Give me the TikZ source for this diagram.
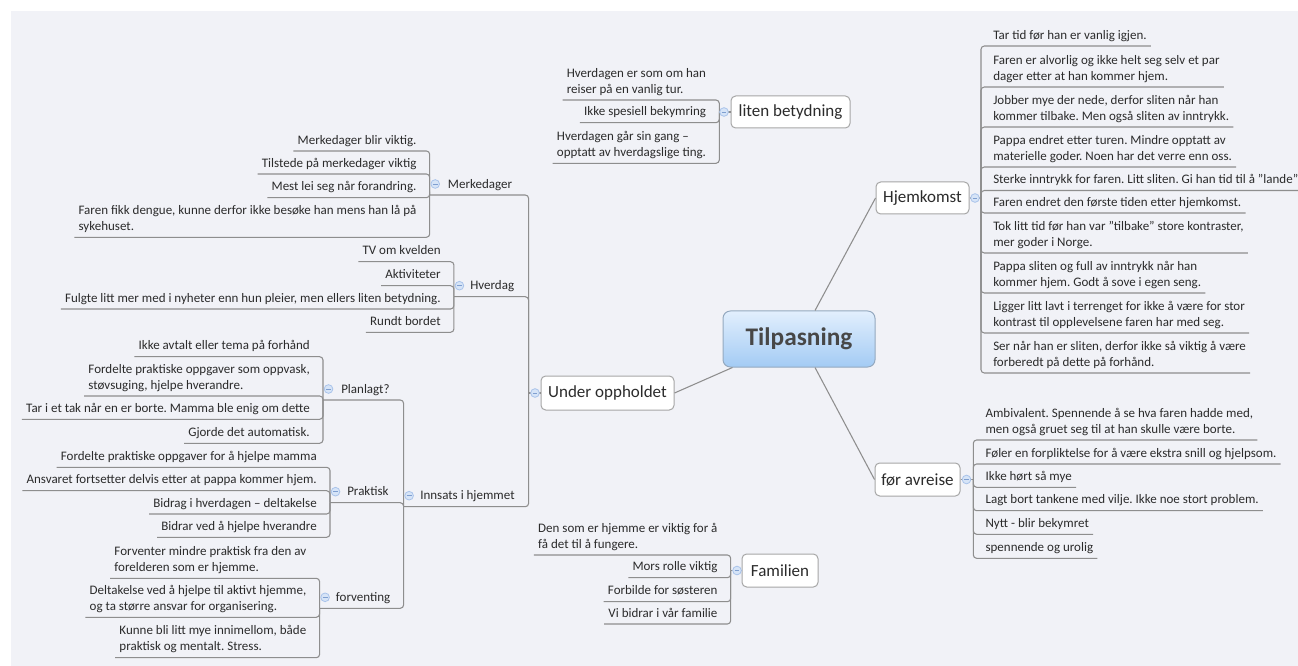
\documentclass[tikz,border=0pt]{standalone}
\usepackage{fontspec}
\setmainfont{Carlito}
\frenchspacing
\usetikzlibrary{calc}
\definecolor{bgc}{HTML}{F1F2F7}
\definecolor{txt}{HTML}{2B2B2B}
\definecolor{ln}{HTML}{8E8E8E}
\definecolor{bx}{HTML}{A6A6A6}
\definecolor{cfill}{HTML}{D6E4F7}
\definecolor{cdraw}{HTML}{A9C3EA}
\definecolor{cmin}{HTML}{7F9FD0}
\definecolor{ctop}{HTML}{E2EFFD}
\definecolor{cbot}{HTML}{A3CBF4}
\definecolor{cbd}{HTML}{94A9BF}
\newcommand\leaffont{\fontsize{9.75}{12}\selectfont}
\newcommand\topfont{\fontsize{12.75}{15}\selectfont}
\newcommand\cenfont{\fontsize{19}{22}\selectfont\bfseries}
\newcommand\ml[1]{\begin{tabular}[b]{@{}l@{}}#1\end{tabular}}
\begin{document}
\begin{tikzpicture}[x=0.75pt,y=-0.75pt,
 leaf/.style={font=\leaffont, text=txt, inner xsep=3pt, inner ysep=2.4pt, text depth=2.6pt},
 lleaf/.style={leaf, anchor=south east},
 rleaf/.style={leaf, anchor=south west},
 sub/.style={leaf, anchor=south west},
 topic/.style={draw=bx, line width=0.75pt, fill=white, rounded corners=3.5pt, font=\topfont, text=txt, inner sep=0pt, minimum height=24pt},
 central/.style={draw=cbd, line width=0.75pt, top color=ctop, bottom color=cbot, rounded corners=5.5pt, font=\cenfont, text=black!72, inner sep=0pt, minimum width=114pt, minimum height=42pt},
 conn/.style={draw=ln, line width=0.8pt},
 branch/.style={draw=ln, line width=0.8pt, rounded corners=2.5pt},
 toggle/.style={circle, draw=cdraw, fill=cfill, line width=0.6pt, minimum size=6.5pt, inner sep=0pt,
   path picture={\draw[cmin, line width=0.6pt] (path picture bounding box.center) ++(-1.8pt,0) -- ++(3.6pt,0);}},
]
\fill[white] (0,0) rectangle (1298,666);
\fill[bgc] (11,11) rectangle (1298,666);
\useasboundingbox (0,0) rectangle (1298,666);

% main topics
\node[central] (cen) at (799,339) {Tilpasning};
\node[topic, minimum width=89.25pt] (lb) at (790.5,112) {liten betydning};
\node[topic, minimum width=69.75pt] (hjem) at (922.5,198) {Hjemkomst};
\node[topic, minimum width=63.75pt, minimum height=24.75pt] (fav) at (917.5,479.5) {før avreise};
\node[topic, minimum width=99.75pt, minimum height=25.5pt] (uo) at (607.5,393) {Under oppholdet};
\node[topic, minimum width=57pt, minimum height=24.75pt] (fam) at (780,570.5) {Familien};

\draw[conn] ($(cen.north)+(16,0)$) -- (hjem.west);
\draw[conn] ($(cen.south)+(16,0)$) -- (fav.west);
\draw[conn] ($(cen.south west)+(10,0)$) -- (uo.east);

% liten betydning
\coordinate (lbJ) at (719.3,112);
\node[lleaf] (lb1) at (710.3,100) {\ml{Hverdagen er som om han\\reiser på en vanlig tur.}};
\node[lleaf] (lb2) at (710.3,122.7) {Ikke spesiell bekymring};
\node[lleaf] (lb3) at (710.3,163.3) {\ml{Hverdagen går sin gang –\\opptatt av hverdagslige ting.}};
\draw[conn] (lb.west) -- (lbJ);
\foreach \n in {lb1,lb2,lb3} \draw[branch] (lbJ) |- (\n.south east) -- (\n.south west);

% Familien
\coordinate (faJ) at (730.7,570.5);
\node[lleaf] (fa1) at (721.7,555) {\ml{Den som er hjemme er viktig for å\\få det til å fungere.}};
\node[lleaf] (fa2) at (721.7,577.7) {Mors rolle viktig};
\node[lleaf] (fa3) at (721.7,601.7) {Forbilde for søsteren};
\node[lleaf] (fa4) at (721.7,624) {Vi bidrar i vår familie};
\draw[conn] (fam.west) -- (faJ);
\foreach \n in {fa1,fa2,fa3,fa4} \draw[branch] (faJ) |- (\n.south east) -- (\n.south west);

% Hjemkomst
\coordinate (hjJ) at (981,198);
\node[rleaf] (hj1) at (989,46) {Tar tid før han er vanlig igjen.};
\node[rleaf] (hj2) at (989,87) {\ml{Faren er alvorlig og ikke helt seg selv et par\\dager etter at han kommer hjem.}};
\node[rleaf] (hj3) at (989,127) {\ml{Jobber mye der nede, derfor sliten når han\\kommer tilbake. Men også sliten av inntrykk.}};
\node[rleaf] (hj4) at (989,167) {\ml{Pappa endret etter turen. Mindre opptatt av\\materielle goder. Noen har det verre enn oss.}};
\node[rleaf] (hj5) at (989,190.5) {Sterke inntrykk for faren. Litt sliten. Gi han tid til å "lande"};
\node[rleaf] (hj6) at (989,213) {Faren endret den første tiden etter hjemkomst.};
\node[rleaf] (hj7) at (989,253) {\ml{Tok litt tid før han var "tilbake" store kontraster,\\mer goder i Norge.}};
\node[rleaf] (hj8) at (989,293) {\ml{Pappa sliten og full av inntrykk når han\\kommer hjem. Godt å sove i egen seng.}};
\node[rleaf] (hj9) at (989,333) {\ml{Ligger litt lavt i terrenget for ikke å være for stor\\kontrast til opplevelsene faren har med seg.}};
\node[rleaf] (hj10) at (989,373) {\ml{Ser når han er sliten, derfor ikke så viktig å være\\forberedt på dette på forhånd.}};
\draw[conn] (hjem.east) -- (hjJ);
\foreach \n in {hj1,hj2,hj3,hj4,hj5,hj6,hj7,hj8,hj9,hj10} \draw[branch] (hjJ) |- (\n.south west) -- (\n.south east);

% før avreise
\coordinate (avJ) at (973.3,479.5);
\node[rleaf] (av1) at (981.3,440) {\ml{Ambivalent. Spennende å se hva faren hadde med,\\men også gruet seg til at han skulle være borte.}};
\node[rleaf] (av2) at (981.3,464) {Føler en forpliktelse for å være ekstra snill og hjelpsom.};
\node[rleaf] (av3) at (981.3,487.3) {Ikke hørt så mye};
\node[rleaf] (av4) at (981.3,510.7) {Lagt bort tankene med vilje. Ikke noe stort problem.};
\node[rleaf] (av5) at (981.3,534.3) {Nytt - blir bekymret};
\node[rleaf] (av6) at (981.3,558.3) {spennende og urolig};
\draw[conn] (fav.east) -- (avJ);
\foreach \n in {av1,av2,av3,av4,av5,av6} \draw[branch] (avJ) |- (\n.south west) -- (\n.south east);

% Under oppholdet
\coordinate (uoJ) at (528.6,393);
\draw[conn] (uo.west) -- (uoJ);
\coordinate (mkJ) at (429.7,195);
\coordinate (hvJ) at (453.9,296.7);
\coordinate (inJ) at (403.6,506.7);
\node[sub] (mk) at (443.7,195) {Merkedager};
\node[sub] (hv) at (466,296.7) {Hverdag};
\node[sub] (in) at (416,506.7) {Innsats i hjemmet};
\draw[branch] (uoJ) |- (mkJ);
\draw[branch] (uoJ) |- (hvJ);
\draw[branch] (uoJ) |- (inJ);

% Merkedager
\node[lleaf] (mk1) at (420.7,151) {Merkedager blir viktig.};
\node[lleaf] (mk2) at (420.7,174) {Tilstede på merkedager viktig};
\node[lleaf] (mk3) at (420.7,197.7) {Mest lei seg når forandring.};
\node[lleaf] (mk4) at (420.7,237.3) {\ml{Faren fikk dengue, kunne derfor ikke besøke han mens han lå på\\sykehuset.}};
\foreach \n in {mk1,mk2,mk3,mk4} \draw[branch] (mkJ) |- (\n.south east) -- (\n.south west);

% Hverdag
\node[lleaf] (hv1) at (444.9,261.7) {TV om kvelden};
\node[lleaf] (hv2) at (444.9,285.7) {Aktiviteter};
\node[lleaf] (hv3) at (444.9,309) {Fulgte litt mer med i nyheter enn hun pleier, men ellers liten betydning.};
\node[lleaf] (hv4) at (444.9,332.3) {Rundt bordet};
\foreach \n in {hv1,hv2,hv3,hv4} \draw[branch] (hvJ) |- (\n.south east) -- (\n.south west);

% Innsats i hjemmet
\coordinate (plJ) at (323,400);
\coordinate (prJ) at (330,502.7);
\coordinate (foJ) at (319.6,608.3);
\node[sub] (pl) at (337,400) {Planlagt?};
\node[sub] (pr) at (343,502.7) {Praktisk};
\node[sub] (fo) at (331.7,608.3) {forventing};
\draw[branch] (inJ) |- (plJ);
\draw[branch] (inJ) |- (prJ);
\draw[branch] (inJ) |- (foJ);

\node[lleaf] (pl1) at (314,356.7) {Ikke avtalt eller tema på forhånd};
\node[lleaf] (pl2) at (314,396) {\ml{Fordelte praktiske oppgaver som oppvask,\\støvsuging, hjelpe hverandre.}};
\node[lleaf] (pl3) at (314,419.3) {Tar i et tak når en er borte. Mamma ble enig om dette};
\node[lleaf] (pl4) at (314,443.3) {Gjorde det automatisk.};
\foreach \n in {pl1,pl2,pl3,pl4} \draw[branch] (plJ) |- (\n.south east) -- (\n.south west);

\node[lleaf] (pr1) at (321,467.3) {Fordelte praktiske oppgaver for å hjelpe mamma};
\node[lleaf] (pr2) at (321,490.7) {Ansvaret fortsetter delvis etter at pappa kommer hjem.};
\node[lleaf] (pr3) at (321,514) {Bidrag i hverdagen – deltakelse};
\node[lleaf] (pr4) at (321,537.3) {Bidrar ved å hjelpe hverandre};
\foreach \n in {pr1,pr2,pr3,pr4} \draw[branch] (prJ) |- (\n.south east) -- (\n.south west);

\node[lleaf] (fo1) at (310.6,578.3) {\ml{Forventer mindre praktisk fra den av\\forelderen som er hjemme.}};
\node[lleaf] (fo2) at (310.6,617.3) {\ml{Deltakelse ved å hjelpe til aktivt hjemme,\\og ta større ansvar for organisering.}};
\node[lleaf] (fo3) at (310.6,657.7) {\ml{Kunne bli litt mye innimellom, både\\praktisk og mentalt. Stress.}};
\foreach \n in {fo1,fo2,fo3} \draw[branch] (foJ) |- (\n.south east) -- (\n.south west);

% collapse toggles
\node[toggle] (tlb) at (724,112) {};
\node[toggle] (tfa) at (737,570.5) {};
\node[toggle] (thj) at (975,198) {};
\node[toggle] (tav) at (966.5,479.5) {};
\node[toggle] (tuo) at (535,393) {};
\node[toggle] (tmk) at (435.2,184) {};
\node[toggle] (thv) at (459.4,285.7) {};
\node[toggle] (tin) at (409.1,495.7) {};
\node[toggle] (tpl) at (328.5,389) {};
\node[toggle] (tpr) at (335.5,491.7) {};
\node[toggle] (tfo) at (325.1,597.3) {};
\end{tikzpicture}
\end{document}
